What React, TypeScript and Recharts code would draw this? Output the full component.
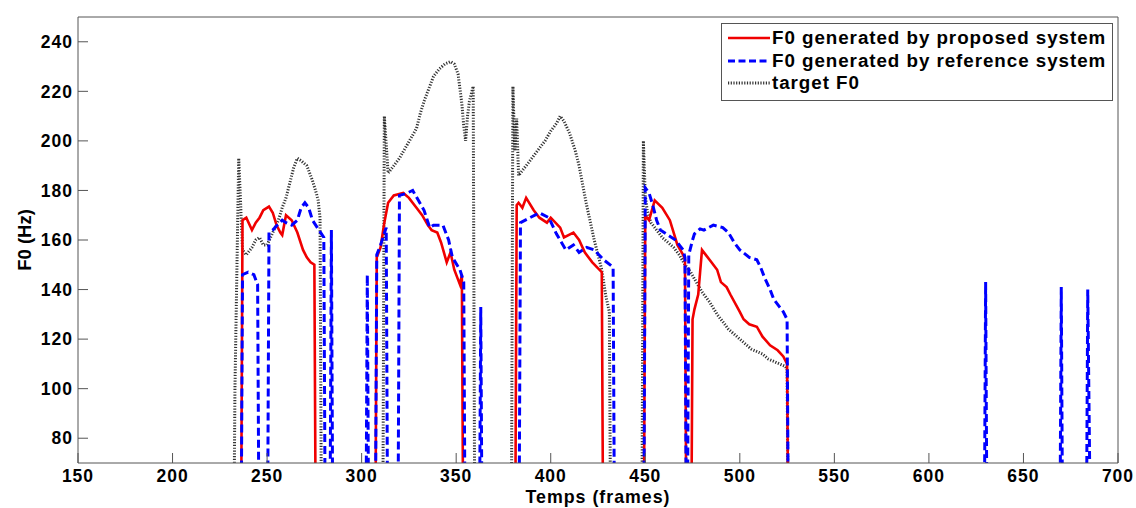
import React from 'react';
import { LineChart, Line, XAxis, YAxis, Legend, Label } from 'recharts';

const xTicks = [150, 200, 250, 300, 350, 400, 450, 500, 550, 600, 650, 700];
const yTicks = [80, 100, 120, 140, 160, 180, 200, 220, 240];

// [frame, F0 Hz]; 0 = unvoiced (drawn below the visible range)
const targetF0: [number, number][] = [
  [232, 0], [233, 100], [235, 193], [237, 156], [239, 154], [242, 157], [244, 160], [246, 161], [248, 158], [250, 158],
  [253, 163], [256, 168], [258, 173], [260, 177], [262, 183], [264, 189], [266, 193], [268, 192], [271, 190], [274, 184],
  [276, 179], [277, 176], [278, 169], [279, 0],
  [311, 0], [312, 210], [314, 187], [317, 190], [320, 193], [323, 197], [326, 201], [329, 205], [331, 211], [333, 216],
  [336, 222], [338, 226], [341, 229], [344, 231], [347, 232], [349, 231], [351, 227], [353, 215], [354, 206], [355, 200],
  [356, 210], [357, 216], [359, 222], [360, 0],
  [379, 0], [380, 222], [381, 196], [382, 209], [383, 186], [385, 188], [388, 191], [391, 194], [394, 197], [397, 200],
  [400, 204], [403, 207], [405, 210], [407, 208], [410, 203], [413, 196], [415, 190], [417, 182], [419, 174], [421, 167],
  [423, 160], [425, 154], [427, 148], [429, 138], [431, 131], [432, 0],
  [448, 0], [449, 200], [450, 178], [451, 172], [453, 167], [456, 164], [459, 161], [462, 159], [465, 157], [468, 154],
  [471, 150], [474, 147], [477, 143], [480, 139], [484, 135], [488, 130], [491, 127], [494, 124], [497, 122], [500, 120],
  [503, 118], [506, 116], [509, 115], [512, 114], [515, 112], [518, 111], [521, 110], [524, 109], [525, 108], [526, 0],
];

const proposedF0: [number, number][] = [
  [236, 0], [237, 168], [239, 169], [242, 164], [244, 167], [246, 169], [248, 172], [251, 173.5], [253, 171], [255, 166],
  [257, 163], [258, 162], [260, 170], [263, 168], [266, 163], [269, 156], [271, 153], [273, 151], [275, 150], [276, 0],
  [307, 0], [308, 153], [310, 157], [312, 167], [314, 175], [317, 178], [322, 179], [325, 177], [329, 173], [332, 170],
  [335, 166], [337, 164], [340, 163], [342, 159], [345, 151], [347, 155], [349, 148], [352, 142], [353, 146], [354, 0],
  [381, 0], [382, 174], [383, 175], [385, 173], [387, 177], [391, 172], [394, 169], [398, 167], [400, 169], [405, 165],
  [407, 161], [412, 163], [415, 160], [418, 155], [422, 151], [427, 147], [428, 0],
  [449, 0], [450, 170], [452, 168], [455, 176], [459, 173], [463, 168], [467, 158], [470, 154], [471, 152], [472, 0],
  [474, 0], [475, 128], [476, 132], [478, 138], [479, 147], [480, 156], [482, 154], [485, 151], [488, 148], [490, 143],
  [493, 141], [495, 138], [500, 131], [502, 128], [505, 126], [509, 125], [512, 121], [516, 117.5], [520, 115.5],
  [523, 113], [525, 110], [526, 0],
];

const referenceF0: [number, number][] = [
  [236, 0], [237, 146], [240, 147], [243, 146], [245, 142], [246, 0],
  [250, 0], [251, 163], [253, 164], [256, 166.5], [258, 168], [260, 167], [263, 166], [266, 168], [268, 173], [270, 175],
  [272, 173], [274, 168], [277, 164.5], [280, 161], [281, 0], [283, 0], [284, 164], [285, 0],
  [302, 0], [303, 146], [304, 0],
  [307, 0], [308, 154], [310, 158], [313, 165], [314, 0],
  [319, 0], [320, 178], [323, 178.6], [327, 180], [330, 176], [333, 172], [336, 165], [338, 166], [343, 166], [346, 160],
  [348, 153], [352, 148], [354, 143], [355, 0],
  [362, 0], [363, 133], [364, 0],
  [383, 0], [384, 167], [389, 169], [394, 171], [399, 169], [403, 162.5], [408, 156], [412, 158], [415, 155], [419, 157],
  [423, 156], [428, 152], [433, 149], [434, 0],
  [449, 0], [450, 181], [452, 179], [454, 174], [456, 168], [458, 164], [462, 162], [466, 160], [470, 156], [471, 153], [472, 0],
  [473, 154], [475, 160], [476, 162.5], [479, 164.5], [481, 164], [486, 166], [491, 165], [494, 163], [497, 159], [500, 156],
  [505, 153], [509, 152], [511, 149], [513, 145], [516, 140], [518, 136], [521, 133], [523, 131], [525, 128], [526, 0],
  [629, 0], [630, 143], [631, 0],
  [669, 0], [670, 141], [671, 0],
  [683, 0], [684, 140], [686, 0],
];

const seriesNames = [
  'F0 generated by proposed system',
  'F0 generated by reference system',
  'target F0',
];

const toRows = (pts: [number, number][]) => pts.map(([x, y]) => ({ x, y }));

const FONT = "'Liberation Sans', Arial, sans-serif";
const AXIS = '#555';

const legendStyles = [
  { color: '#f00000', width: 2.5, dash: undefined as string | undefined },
  { color: '#0000ff', width: 3, dash: '7 3.5' },
  { color: '#333', width: 3, dash: '1.2 1.5' },
];

const LegendBox = () => (
  <div
    style={{
      border: `1px solid ${AXIS}`,
      background: '#fff',
      padding: '3px 6px 5px 6px',
      boxSizing: 'border-box',
      width: 392,
      fontFamily: FONT,
      fontWeight: 'bold',
      fontSize: 18.8,
      letterSpacing: 0.95,
      color: '#000',
    }}
  >
    {seriesNames.map((name, i) => (
      <div key={name} style={{ display: 'flex', alignItems: 'center', height: 22.5 }}>
        <svg width={42} height={10} style={{ marginRight: 2, flex: 'none' }}>
          <line
            x1={0}
            y1={5}
            x2={42}
            y2={5}
            stroke={legendStyles[i].color}
            strokeWidth={legendStyles[i].width}
            strokeDasharray={legendStyles[i].dash}
          />
        </svg>
        <span style={{ lineHeight: '22.5px', whiteSpace: 'nowrap' }}>{name}</span>
      </div>
    ))}
  </div>
);

const tickStyle = { fill: '#000', fontSize: 17.5, fontWeight: 'bold', fontFamily: FONT, letterSpacing: 1 };

export default function App() {
  return (
    <div style={{ position: 'absolute', left: 0, top: 0, width: 1136, height: 508, background: '#fff' }}>
      <LineChart width={1136} height={508} margin={{ top: 7, right: 8, bottom: 0, left: 0 }}>
        <XAxis
          xAxisId="b"
          dataKey="x"
          type="number"
          orientation="bottom"
          domain={[150, 700]}
          ticks={xTicks}
          interval={0}
          allowDataOverflow
          height={45}
          tickSize={-10}
          tickMargin={17}
          stroke={AXIS}
          tick={tickStyle}
        >
          <Label
            value="Temps (frames)"
            position="insideBottom"
            offset={5.5}
            fill="#000"
            fontSize={17.8}
            fontWeight="bold"
            fontFamily={FONT}
            letterSpacing={1}
          />
        </XAxis>
        <XAxis
          xAxisId="t"
          dataKey="x"
          type="number"
          orientation="top"
          domain={[150, 700]}
          ticks={xTicks}
          interval={0}
          allowDataOverflow
          height={10}
          tickSize={-10}
          stroke={AXIS}
          tick={false}
        />
        <YAxis
          yAxisId="l"
          type="number"
          domain={[70, 250]}
          ticks={yTicks}
          interval={0}
          allowDataOverflow
          width={78}
          tickSize={-10}
          tickMargin={15}
          stroke={AXIS}
          tick={tickStyle}
        >
          <Label
            content={(props: any) => {
              const vb = props.viewBox || { x: 0, y: 17, width: 78, height: 446 };
              const cx = vb.x + 24;
              const cy = vb.y + vb.height / 2;
              return (
                <text
                  x={cx}
                  y={cy}
                  transform={`rotate(-90 ${cx} ${cy})`}
                  textAnchor="middle"
                  dominantBaseline="central"
                  fill="#000"
                  fontSize={18.5}
                  fontWeight="bold"
                  fontFamily={FONT}
                >
                  F0 (Hz)
                </text>
              );
            }}
          />
        </YAxis>
        <YAxis
          yAxisId="r"
          type="number"
          orientation="right"
          domain={[70, 250]}
          ticks={yTicks}
          interval={0}
          allowDataOverflow
          width={10}
          tickSize={-10}
          stroke={AXIS}
          tick={false}
        />
        <Legend
          layout="vertical"
          align="center"
          verticalAlign="middle"
          wrapperStyle={{ position: 'absolute', left: 721, top: 23, width: 392, height: 'auto' }}
          content={() => <LegendBox />}
        />
        <Line
          xAxisId="b"
          yAxisId="l"
          data={toRows(targetF0)}
          dataKey="y"
          name={seriesNames[2]}
          type="linear"
          stroke="#333"
          strokeWidth={3}
          strokeDasharray="1.2 1.6"
          dot={false}
          activeDot={false}
          isAnimationActive={false}
        />
        <Line
          xAxisId="b"
          yAxisId="l"
          data={toRows(proposedF0)}
          dataKey="y"
          name={seriesNames[0]}
          type="linear"
          stroke="#f00000"
          strokeWidth={2.6}
          dot={false}
          activeDot={false}
          isAnimationActive={false}
        />
        <Line
          xAxisId="b"
          yAxisId="l"
          data={toRows(referenceF0)}
          dataKey="y"
          name={seriesNames[1]}
          type="linear"
          stroke="#0000ff"
          strokeWidth={3}
          strokeDasharray="8 4"
          dot={false}
          activeDot={false}
          isAnimationActive={false}
        />
      </LineChart>
    </div>
  );
}
